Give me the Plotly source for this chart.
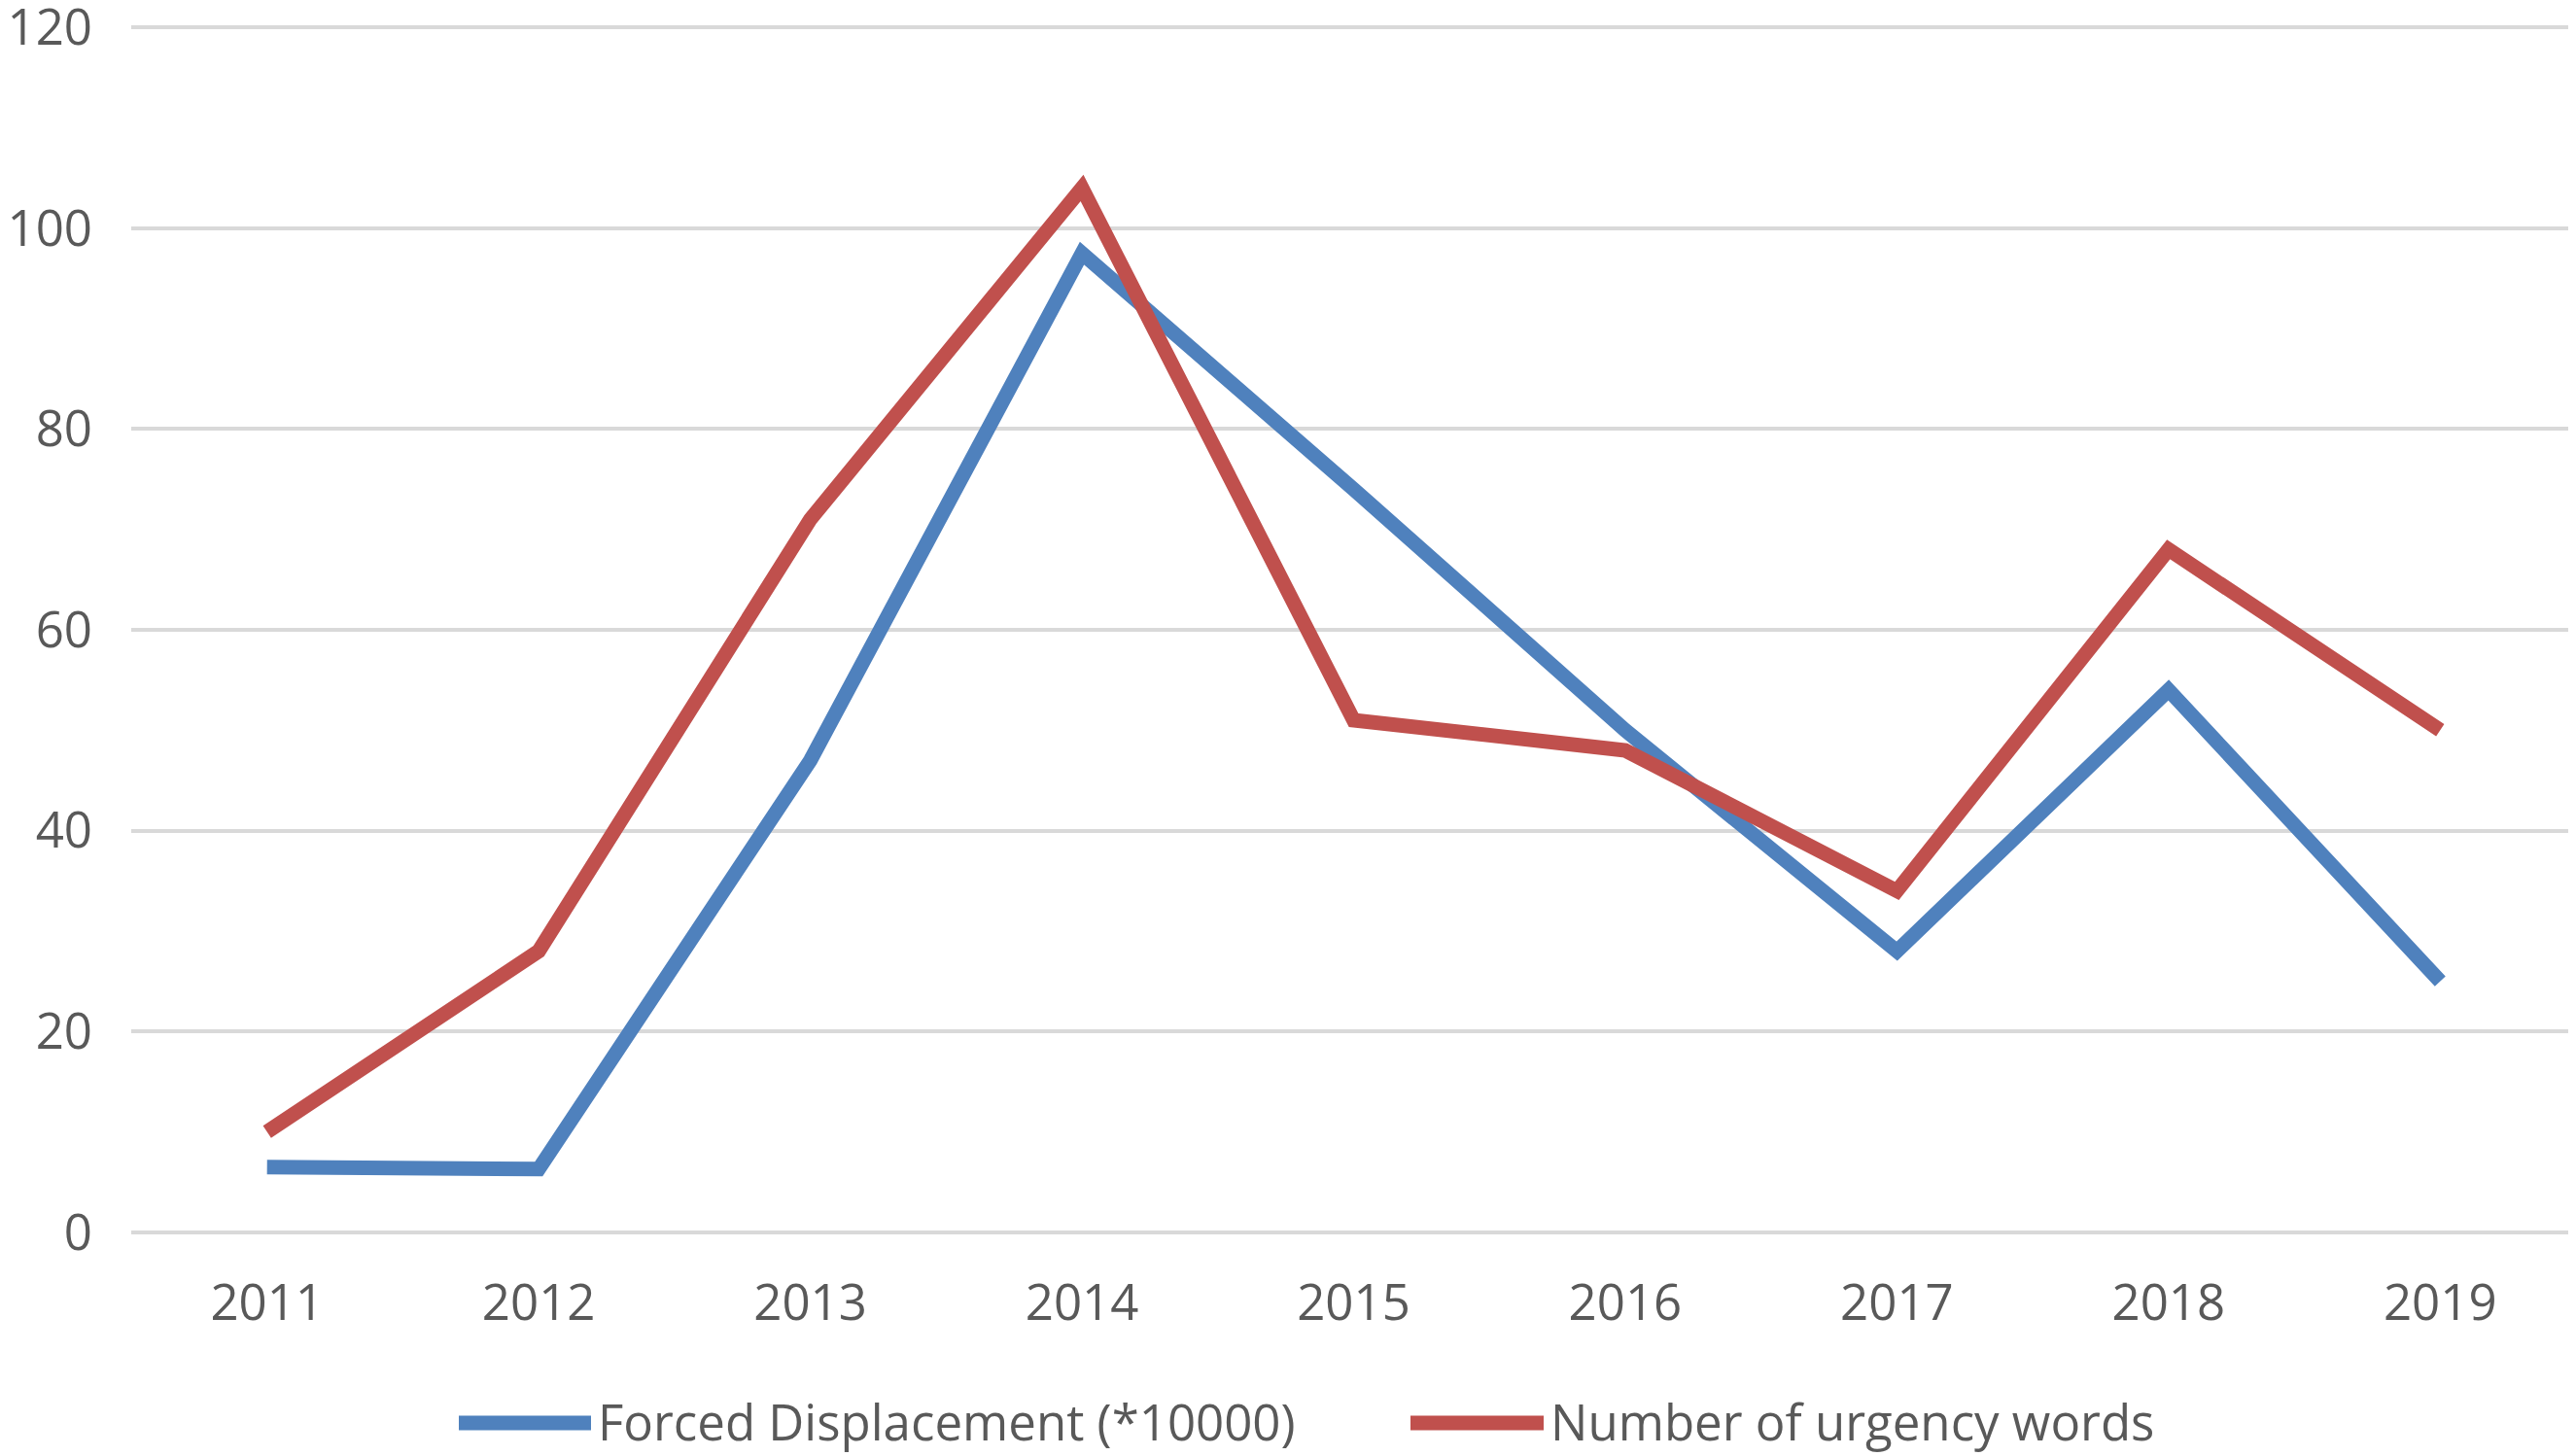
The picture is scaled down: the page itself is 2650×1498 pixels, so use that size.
import plotly.graph_objects as go

years = ["2011", "2012", "2013", "2014", "2015", "2016", "2017", "2018", "2019"]
forced_displacement = [6.5, 6.3, 47, 97.5, 74, 50, 28, 54, 25]
urgency_words = [10, 28, 71, 104, 51, 48, 34, 68, 50]
y_ticks = [0, 20, 40, 60, 80, 100, 120]
series_names = ["Forced Displacement (*10000)", "Number of urgency words"]
series_colors = ["#4F81BD", "#C0504D"]

text_color = "#595959"
font_family = "Open Sans, Liberation Sans, sans-serif"

W, H = 2650, 1498
ML, MR, MT, MB = 127, 8, 17, 235
PW, PH = W - ML - MR, H - MT - MB

fig = go.Figure()
for name, vals, col in zip(series_names, [forced_displacement, urgency_words], series_colors):
    fig.add_trace(go.Scatter(
        x=years, y=vals, mode="lines", name=name,
        line=dict(color=col, width=15),
    ))

# custom legend (Excel-style long line samples), positions in pixels
def px_x(px):
    return (px - ML) / PW

def px_y(py):
    return (H - MB - py) / PH

legend_line_y = px_y(1456)
legend_text_y = px_y(1454)
legend_items = [(464, 600, 605), (1443, 1580, 1585)]
shapes = []
annotations = []
for (x0, x1, xt), name, col in zip(legend_items, series_names, series_colors):
    shapes.append(dict(type="line", xref="paper", yref="paper",
                       x0=px_x(x0), x1=px_x(x1), y0=legend_line_y, y1=legend_line_y,
                       line=dict(color=col, width=15)))
    annotations.append(dict(xref="paper", yref="paper", x=px_x(xt), y=legend_text_y,
                            xanchor="left", yanchor="middle", showarrow=False,
                            text=name, font=dict(size=51, color=text_color)))

fig.update_layout(
    width=W, height=H,
    margin=dict(l=ML, r=MR, t=MT, b=MB, autoexpand=False),
    paper_bgcolor="white", plot_bgcolor="white",
    font=dict(family=font_family, size=51, color=text_color),
    showlegend=False,
    shapes=shapes, annotations=annotations,
)
fig.update_xaxes(
    type="category", range=[-0.5, 8.5], showgrid=False, zeroline=False,
    showline=False, ticks="", ticklabelstandoff=35, automargin=False,
    tickfont=dict(size=51, color=text_color),
)
fig.update_yaxes(
    range=[-0.3, 120.3], tickvals=y_ticks, showgrid=True, gridcolor="#D9D9D9",
    gridwidth=4, zeroline=False, showline=False, ticks="",
    ticklabelstandoff=39, automargin=False, ticklabeloverflow="allow",
    tickfont=dict(size=51, color=text_color),
)

fig.write_html("out.html")
